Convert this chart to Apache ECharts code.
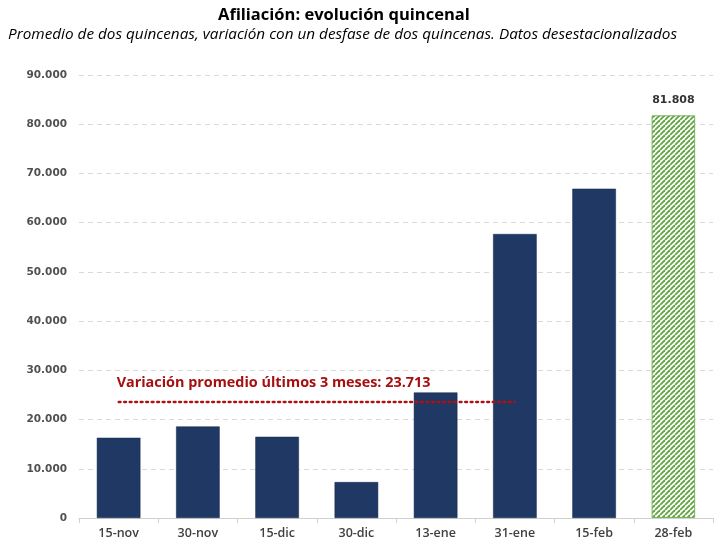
<!DOCTYPE html>
<html><head><meta charset="utf-8">
<script src="https://cdn.jsdelivr.net/npm/echarts@6/dist/echarts.min.js"></script>
<style>html,body{margin:0;padding:0;background:#fff}#c{width:720px;height:546px}</style>
</head><body><div id="c"></div>
<script>
const categories = ['15-nov','30-nov','15-dic','30-dic','13-ene','31-ene','15-feb','28-feb'];
const values = [16300, 18600, 16500, 7300, 25500, 57700, 66900, 81808];
const averageValue = 23713;
const avgFrom = '15-nov', avgTo = '31-ene';
const yMax = 90000, yStep = 10000;

function fmt(v){ return String(Math.round(v)).replace(/\B(?=(\d{3})+(?!\d))/g,'.'); }

const pc = document.createElement('canvas');
pc.width = 5; pc.height = 5;
const g = pc.getContext('2d');
g.fillStyle = '#ffffff'; g.fillRect(0,0,5,5);
g.strokeStyle = '#64a545'; g.lineWidth = 1.9;
for (let k=-5;k<=10;k+=5){ g.beginPath(); g.moveTo(k,5); g.lineTo(k+5,0); g.stroke(); }

const data = values.map((v,i)=> i===values.length-1 ? {
  value: v,
  itemStyle: { color: {image: pc, repeat: 'repeat'}, borderColor: '#7cb45a', borderWidth: 1 },
  label: { show: true, position: 'top', formatter: p=>fmt(p.value), fontFamily: 'DejaVu Sans', fontWeight: 'bold', fontSize: 11, color: '#333', distance: 10 }
} : v);

const chart = echarts.init(document.getElementById('c'));
chart.setOption({
  animation: false,
  title: [{
    text: 'Afiliación: evolución quincenal', left: 213, top: 2,
    textStyle: { fontFamily: 'Open Sans', fontWeight: 'bold', fontSize: 16.5, color: '#000' }
  },{
    text: 'Promedio de dos quincenas, variación con un desfase de dos quincenas. Datos desestacionalizados',
    left: 3, top: 22,
    textStyle: { fontFamily: 'Open Sans', fontStyle: 'italic', fontWeight: 'normal', fontSize: 15.3, color: '#000' }
  }],
  grid: { left: 79, right: 7, top: 75, bottom: 28 },
  xAxis: {
    type: 'category', data: categories,
    axisLine: { lineStyle: { color: '#d0d0d0' } },
    axisTick: { show: true, alignWithLabel: false, lineStyle: { color: '#d0d0d0' } },
    axisLabel: { fontFamily: 'Open Sans', fontSize: 12.5, fontWeight: 600, color: '#404040', margin: 9 }
  },
  yAxis: {
    type: 'value', min: 0, max: yMax, interval: yStep,
    axisLabel: { formatter: v=>fmt(v), fontFamily: 'DejaVu Sans', fontWeight: 'bold', fontSize: 10.5, color: '#505050', margin: 12 },
    splitLine: { lineStyle: { color: '#d9d9d9', type: [5,4] } },
    axisLine: { show: false }, axisTick: { show: false }
  },
  series: [{
    type: 'bar', data: data, barWidth: '55%',
    itemStyle: { color: '#1f3864', borderColor: '#14264a', borderWidth: 0.5 },
    markLine: {
      symbol: ['none','none'], silent: true,
      lineStyle: { color: '#b01010', type: [2,3.5], width: 2.3, cap: 'round' },
      label: { show: false },
      data: [[{ coord: [avgFrom, averageValue] }, { coord: [avgTo, averageValue] }]]
    }
  }],
  graphic: []
});
const p = chart.convertToPixel({xAxisIndex:0, yAxisIndex:0}, [avgFrom, averageValue]);
chart.setOption({ graphic: [{
  type: 'text', left: p[0] - 2, top: p[1] - 25,
  style: { text: 'Variación promedio últimos 3 meses: ' + fmt(averageValue), fill: '#a50f0f',
    font: 'bold 14.4px "Open Sans"' }
}]});
</script></body></html>
